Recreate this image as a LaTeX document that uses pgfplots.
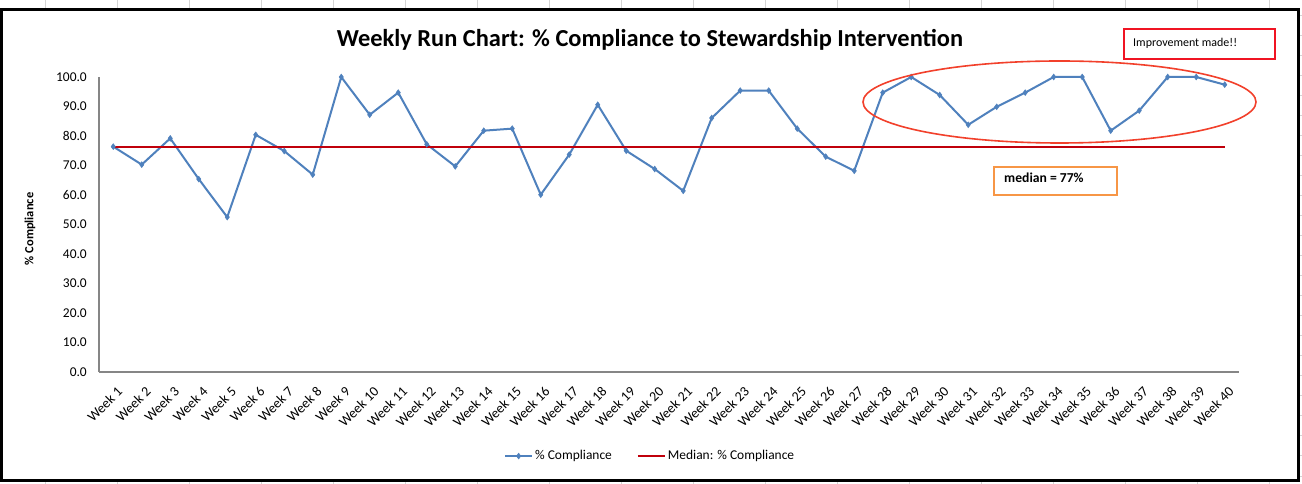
\documentclass[border=0pt]{standalone}
\usepackage{fontspec}
\setmainfont{Carlito}
\usepackage{pgfplots}
\pgfplotsset{compat=1.18}
\definecolor{serblue}{HTML}{4F81BD}
\definecolor{medred}{HTML}{C0000B}
\definecolor{ellred}{HTML}{F2402B}
\definecolor{boxred}{HTML}{F01423}
\definecolor{boxorange}{HTML}{F79646}
\definecolor{axgray}{HTML}{868686}
\definecolor{gridgray}{HTML}{D4D4D4}
\begin{document}
\begin{tikzpicture}
\fill[white] (0bp,0bp) rectangle (1302bp,484bp);
% spreadsheet grid outside the chart frame
\foreach \k in {0,...,17}{
  \draw[gridgray,line width=1bp] ({(45+72*\k)*1bp},484bp) -- ({(45+72*\k)*1bp},474bp);
  \draw[gridgray,line width=1bp] ({(45+72*\k)*1bp},4bp) -- ({(45+72*\k)*1bp},0bp);
}
\foreach \k in {0,...,23}{
  \draw[gridgray,line width=1bp] (1299bp,{(484-16-20*\k)*1bp}) -- (1302bp,{(484-16-20*\k)*1bp});
}
\draw[black,line width=2.5bp] (1.5bp,474.5bp) rectangle (1298.5bp,3.5bp);
\begin{axis}[
  at={(99bp,112bp)}, anchor=south west,
  scale only axis, width=1140bp, height=295bp,
  xmin=0.5, xmax=40.5, ymin=0, ymax=100,
  axis lines*=left,
  axis line style={axgray,line width=1.5bp,-},
  major tick length=0pt,
  xtick={1,...,40},
  xticklabels={Week 1,Week 2,Week 3,Week 4,Week 5,Week 6,Week 7,Week 8,Week 9,Week 10,Week 11,Week 12,Week 13,Week 14,Week 15,Week 16,Week 17,Week 18,Week 19,Week 20,Week 21,Week 22,Week 23,Week 24,Week 25,Week 26,Week 27,Week 28,Week 29,Week 30,Week 31,Week 32,Week 33,Week 34,Week 35,Week 36,Week 37,Week 38,Week 39,Week 40},
  ytick={0,10,...,100},
  /pgf/number format/fixed,
  /pgf/number format/fixed zerofill,
  /pgf/number format/precision=1,
  /pgf/number format/assume math mode=true,
  tick label style={font=\fontsize{13.5}{16}\selectfont, black},
  xticklabel style={xshift=3bp, yshift=-12bp, rotate=45, anchor=north east, inner sep=1bp, font=\fontsize{14}{16}\selectfont},
  yticklabel style={inner sep=0pt, xshift=-12bp},
  ylabel={\% Compliance},
  ylabel style={at={(axis description cs:-0.0605,0.485)}, anchor=center, rotate=0, font=\bfseries\fontsize{12.5}{15}\selectfont},
  title={Weekly Run Chart: \% Compliance to Stewardship Intervention},
  every axis title shift=0pt,
  title style={at={(axis description cs:0.4833,1.125)}, anchor=center, font=\bfseries\fontsize{24.5}{28}\selectfont},
  legend columns=2,
  legend style={at={(axis description cs:0.4835,-0.285)}, anchor=center, draw=none, fill=none,
    font=\fontsize{13.5}{16}\selectfont, inner sep=0pt,
    /tikz/every even column/.append style={column sep=23bp}},
  legend image code/.code={\draw[mark repeat=2,mark phase=2,#1] plot coordinates {(0bp,0bp) (13.5bp,0bp) (27bp,0bp)};},
  clip=false,
]
\addplot[serblue, line width=2bp, mark=diamond*, mark size=2.9bp, mark options={fill=serblue,line width=0.5bp}] coordinates {
(1,76.4) (2,70.3) (3,79.2) (4,65.4) (5,52.5) (6,80.4) (7,74.9) (8,66.9) (9,100) (10,87.2)
(11,94.7) (12,77.2) (13,69.7) (14,81.8) (15,82.5) (16,60.1) (17,73.7) (18,90.6) (19,75.0) (20,68.8)
(21,61.4) (22,86.1) (23,95.4) (24,95.4) (25,82.5) (26,73.0) (27,68.2) (28,94.7) (29,100) (30,93.9)
(31,83.8) (32,89.9) (33,94.7) (34,100) (35,100) (36,81.8) (37,88.6) (38,100) (39,100) (40,97.4)};
\addlegendentry{\% Compliance}
\addplot[medred, line width=2bp, no marks] coordinates {(1,76.4) (40,76.4)};
\addlegendentry{Median: \% Compliance}
\end{axis}
% annotations
\draw[ellred, line width=1.6bp] (1059.5bp,382bp) ellipse [x radius=196.5bp, y radius=41bp];
\draw[boxred, line width=2bp] (1124bp,425bp) rectangle (1275bp,455bp);
\node[anchor=west, inner sep=0pt, font=\fontsize{12}{14}\selectfont] at (1133bp,440.5bp) {Improvement made!!};
\draw[boxorange, line width=2bp] (994bp,289bp) rectangle (1117bp,317bp);
\node[anchor=base west, inner sep=0pt, font=\bfseries\fontsize{13.7}{16}\selectfont] at (1004bp,301bp) {median = 77\%};
\pgfresetboundingbox
\path (0bp,0bp) rectangle (1302bp,484bp);
\end{tikzpicture}
\end{document}
